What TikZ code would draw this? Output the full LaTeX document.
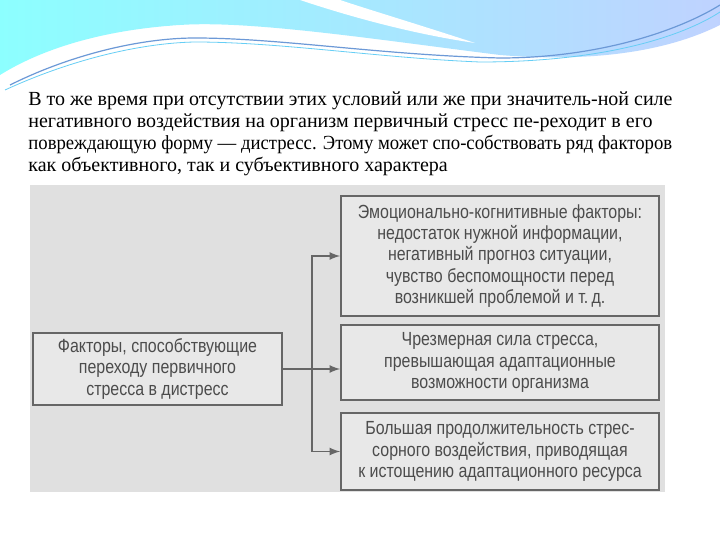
\documentclass[tikz,border=0pt]{standalone}
\usepackage{fontspec}
\usepackage{graphicx}
\setmainfont{Liberation Serif}
\newfontfamily\diag[FakeStretch=0.84]{Liberation Sans}
\begin{document}
\begin{tikzpicture}[x=0.5pt,y=-0.5pt,
  bx/.style={draw=black!60,line width=0.9pt,fill=black!9,align=center,text=black!70,font=\diag\fontsize{9.5}{10.7}\selectfont,inner sep=0pt},
  ar/.style={draw=black!60,line width=0.8pt,-latex}]
\useasboundingbox (0,0) rectangle (720,540);
\fill[white] (0,0) rectangle (720,540);
% header wave
\shade[left color=cyan!45!white,right color=cyan!30!blue!25!white] (0,0) -- (720,0) -- (720,25) .. controls (650,60) and (560,60) .. (500,55) .. controls (380,40) and (250,20) .. (180,25) .. controls (100,30) and (40,50) .. (0,75) -- cycle;
\fill[white] (300,0) .. controls (360,20) and (420,35) .. (475,43) .. controls (420,25) and (370,10) .. (340,0) -- cycle;
\fill[white] (0,80) .. controls (60,45) and (130,27) .. (190,25) .. controls (260,25) and (350,45) .. (500,58) .. controls (380,52) and (250,40) .. (190,40) .. controls (120,42) and (50,60) .. (0,90) -- cycle;
\draw[cyan!50!blue!60,line width=0.6pt] (10,85) .. controls (70,55) and (140,38) .. (195,38) .. controls (280,38) and (380,55) .. (500,58) .. controls (600,58) and (680,30) .. (720,5);
\draw[cyan!60,line width=0.4pt] (5,90) .. controls (70,60) and (140,43) .. (195,42) .. controls (280,42) and (380,58) .. (480,62) .. controls (600,62) and (680,38) .. (720,12);
% paragraph
\node[anchor=north west,align=left,inner sep=0pt,font=\fontsize{10}{11}\selectfont] (par) at (28,91) {В то же время при отсутствии этих условий или же при значитель-ной силе\\негативного воздействия на организм первичный стресс пе-реходит в его\\\scalebox{0.935}[1]{повреждающую форму — дистресс. Этому может спо-собствовать ряд факторов}\\как объективного, так и субъективного характера};
% panel
\fill[black!12] (30,185) rectangle (665,492);
\node[bx,minimum width=159pt,minimum height=60pt] (b1) at (500,256) {Эмоционально-когнитивные факторы:\\недостаток нужной информации,\\негативный прогноз ситуации,\\чувство беспомощности перед\\возникшей проблемой и т.\,д.};
\node[bx,minimum width=159pt,minimum height=37.5pt] (b2) at (500,362.5) {Чрезмерная сила стресса,\\превышающая адаптационные\\возможности организма};
\node[bx,minimum width=159pt,minimum height=38.5pt] (b3) at (500,451.5) {Большая продолжительность стрес-\\сорного воздействия, приводящая\\к истощению адаптационного ресурса};
\node[bx,minimum width=124.5pt,minimum height=36pt] (l) at (157.5,369) {Факторы, способствующие\\переходу первичного\\стресса в дистресс};
\coordinate (j) at (312,369);
\draw[ar] (l.east) -- (b2.west|-j);
\draw[ar] (j) |- (b1.west);
\draw[ar] (j) |- (b3.west);
\end{tikzpicture}
\end{document}
